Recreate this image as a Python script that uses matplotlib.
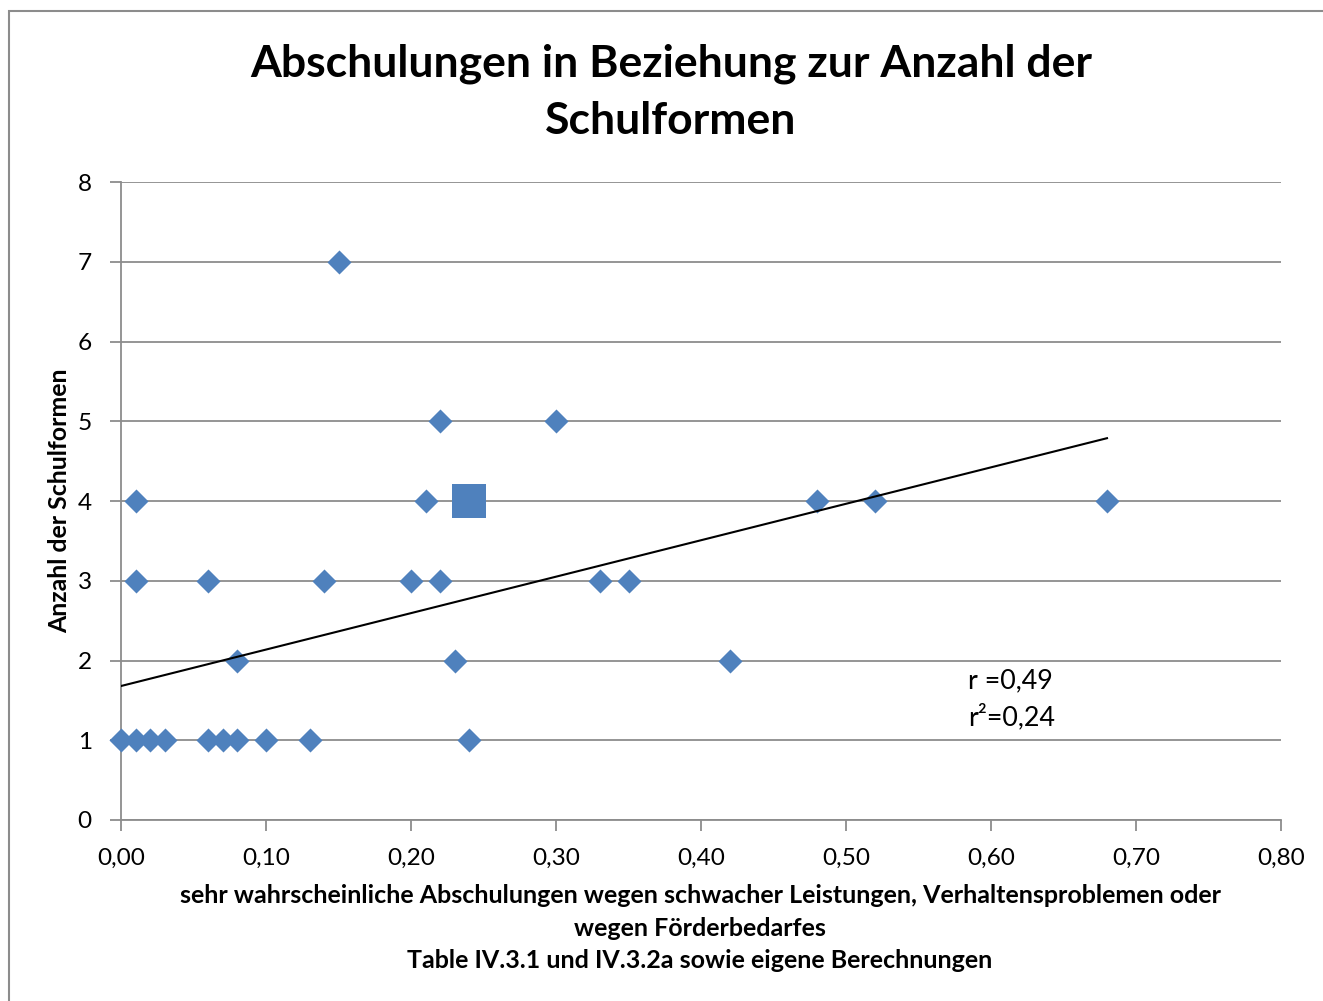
#!/usr/bin/env python3
"""Scatter: Abschulungen vs. Anzahl der Schulformen."""

import matplotlib
matplotlib.use("Agg")
import matplotlib.pyplot as plt
import matplotlib.ticker as ticker
from matplotlib.patches import Rectangle
import numpy as np

plt.rcParams["font.family"] = ["Lato", "DejaVu Sans"]

# share of very likely demotions (x) and number of school types (y)
ABSCHULUNG = [0.15, 0.22, 0.30,
              0.01, 0.21, 0.48, 0.52, 0.68,
              0.01, 0.06, 0.14, 0.20, 0.22, 0.33, 0.35,
              0.08, 0.23, 0.42,
              0.00, 0.01, 0.02, 0.03, 0.06, 0.07, 0.08, 0.10, 0.13, 0.24]
SCHULFORMEN = [7, 5, 5,
               4, 4, 4, 4, 4,
               3, 3, 3, 3, 3, 3, 3,
               2, 2, 2,
               1, 1, 1, 1, 1, 1, 1, 1, 1, 1]

# highlighted point (large square)
HIGHLIGHT_X = [0.24]
HIGHLIGHT_Y = [4]

# linear trend
TREND_INTERCEPT = 1.68
TREND_SLOPE = 4.57

BLUE = "#4F81BD"
GRID = "#8C8C8C"

W, H = 1323, 1001
fig = plt.figure(figsize=(W / 100, H / 100), dpi=100)

# chart area border (Excel style)
fig.patches.append(Rectangle((9 / W, -0.05), 1.2, 1 - 11 / H + 0.05,
                             transform=fig.transFigure, fill=False,
                             edgecolor="#8C8C8C", linewidth=1.5))

ax = fig.add_axes([121 / W, 1 - 820 / H, (1281 - 121) / W, (820 - 182) / H])

ax.set_xlim(0, 0.8)
ax.set_ylim(0, 8)
ax.xaxis.set_major_locator(ticker.MultipleLocator(0.1))
ax.yaxis.set_major_locator(ticker.MultipleLocator(1))
ax.xaxis.set_major_formatter(ticker.FuncFormatter(lambda v, _: f"{v:.2f}".replace(".", ",")))
ax.yaxis.set_major_formatter(ticker.FuncFormatter(lambda v, _: f"{v:.0f}"))

ax.grid(True, axis="y", color=GRID, linewidth=1.3)
ax.set_axisbelow(True)
for side in ("top", "right"):
    ax.spines[side].set_visible(False)
for side in ("left", "bottom"):
    ax.spines[side].set_color(GRID)
    ax.spines[side].set_linewidth(1.3)
ax.tick_params(axis="both", direction="out", length=8, width=1.3, color=GRID,
               labelsize=17.6)
ax.tick_params(axis="y", pad=13)
ax.tick_params(axis="x", pad=12)

ax.scatter(ABSCHULUNG, SCHULFORMEN, marker="D", s=150, color=BLUE,
           linewidths=0, zorder=3, clip_on=False)
ax.scatter(HIGHLIGHT_X, HIGHLIGHT_Y, marker="s", s=600, color=BLUE,
           linewidths=0, zorder=3)

xs = np.array([0, max(ABSCHULUNG)])
ax.plot(xs, TREND_INTERCEPT + TREND_SLOPE * xs, color="black", linewidth=1.5, zorder=4)

ax.text(0.584, 1.74, "r =0,49", fontsize=19.4, va="center", ha="left")
ax.text(0.584, 1.29, "r²=0,24", fontsize=19.4, va="center", ha="left")

fig.text(671 / W, 1 - 92 / H, "Abschulungen in Beziehung zur Anzahl der\nSchulformen",
         ha="center", va="center", fontsize=32, fontweight="bold", linespacing=1.5)

fig.text(60 / W, 1 - 501 / H, "Anzahl der Schulformen", rotation=90,
         ha="center", va="center", fontsize=17.9, fontweight="bold")

fig.text(700 / W, 1 - 928 / H,
         "sehr wahrscheinliche Abschulungen wegen schwacher Leistungen, Verhaltensproblemen oder\n"
         "wegen Förderbedarfes\nTable IV.3.1 und IV.3.2a sowie eigene Berechnungen",
         ha="center", va="center", fontsize=18, fontweight="bold", linespacing=1.5)

fig.savefig("out.png", dpi=100)
